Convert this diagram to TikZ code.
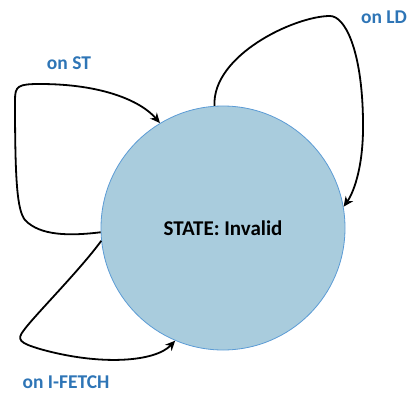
\documentclass[tikz,border=0pt]{standalone}
\usepackage{fontspec}
\setmainfont{Carlito}
\usetikzlibrary{arrows.meta}
\definecolor{statefill}{HTML}{A9CCDD}
\definecolor{stateline}{HTML}{5B9BD5}
\definecolor{labelblue}{HTML}{2E75B6}
\begin{document}
\begin{tikzpicture}[x=1pt,y=-1pt,
  statenode/.style={circle,draw=stateline,fill=statefill,line width=0.8pt,
    minimum size=244pt,inner sep=0pt,font=\bfseries\fontsize{21}{24}\selectfont},
  looparrow/.style={line width=1.8pt,black,-{Stealth[length=10pt,width=9pt]}},
  evlabel/.style={text=labelblue,inner sep=0pt,font=\bfseries\fontsize{19.5}{22}\selectfont}]
\useasboundingbox (0,0) rectangle (412,393);
\node[statenode] (s) at (223,228) {STATE: Invalid};
% self-loops
\draw[looparrow] (s.182) .. controls (70,236) and (40,236) .. (25,220)
  .. controls (17,210) and (15,180) .. (15,100)
  .. controls (15,86) and (18,84) .. (40,84)
  .. controls (100,84) and (140,100) .. (s.121);
\draw[looparrow] (s.94) .. controls (212,55) and (295,16) .. (330,16)
  .. controls (345,16) and (362,50) .. (363,120)
  .. controls (364,170) and (352,195) .. (s.10);
\draw[looparrow] (s.186) .. controls (80,270) and (35,315) .. (24,330)
  .. controls (16,340) and (20,343) .. (40,349)
  .. controls (100,366) and (155,362) .. (s.247);
% event labels
\node[evlabel] (lst) at (69,63) {on ST};
\node[evlabel] (lld) at (384,17) {on LD};
\node[evlabel] (lif) at (66,382) {on I-FETCH};
\end{tikzpicture}
\end{document}
